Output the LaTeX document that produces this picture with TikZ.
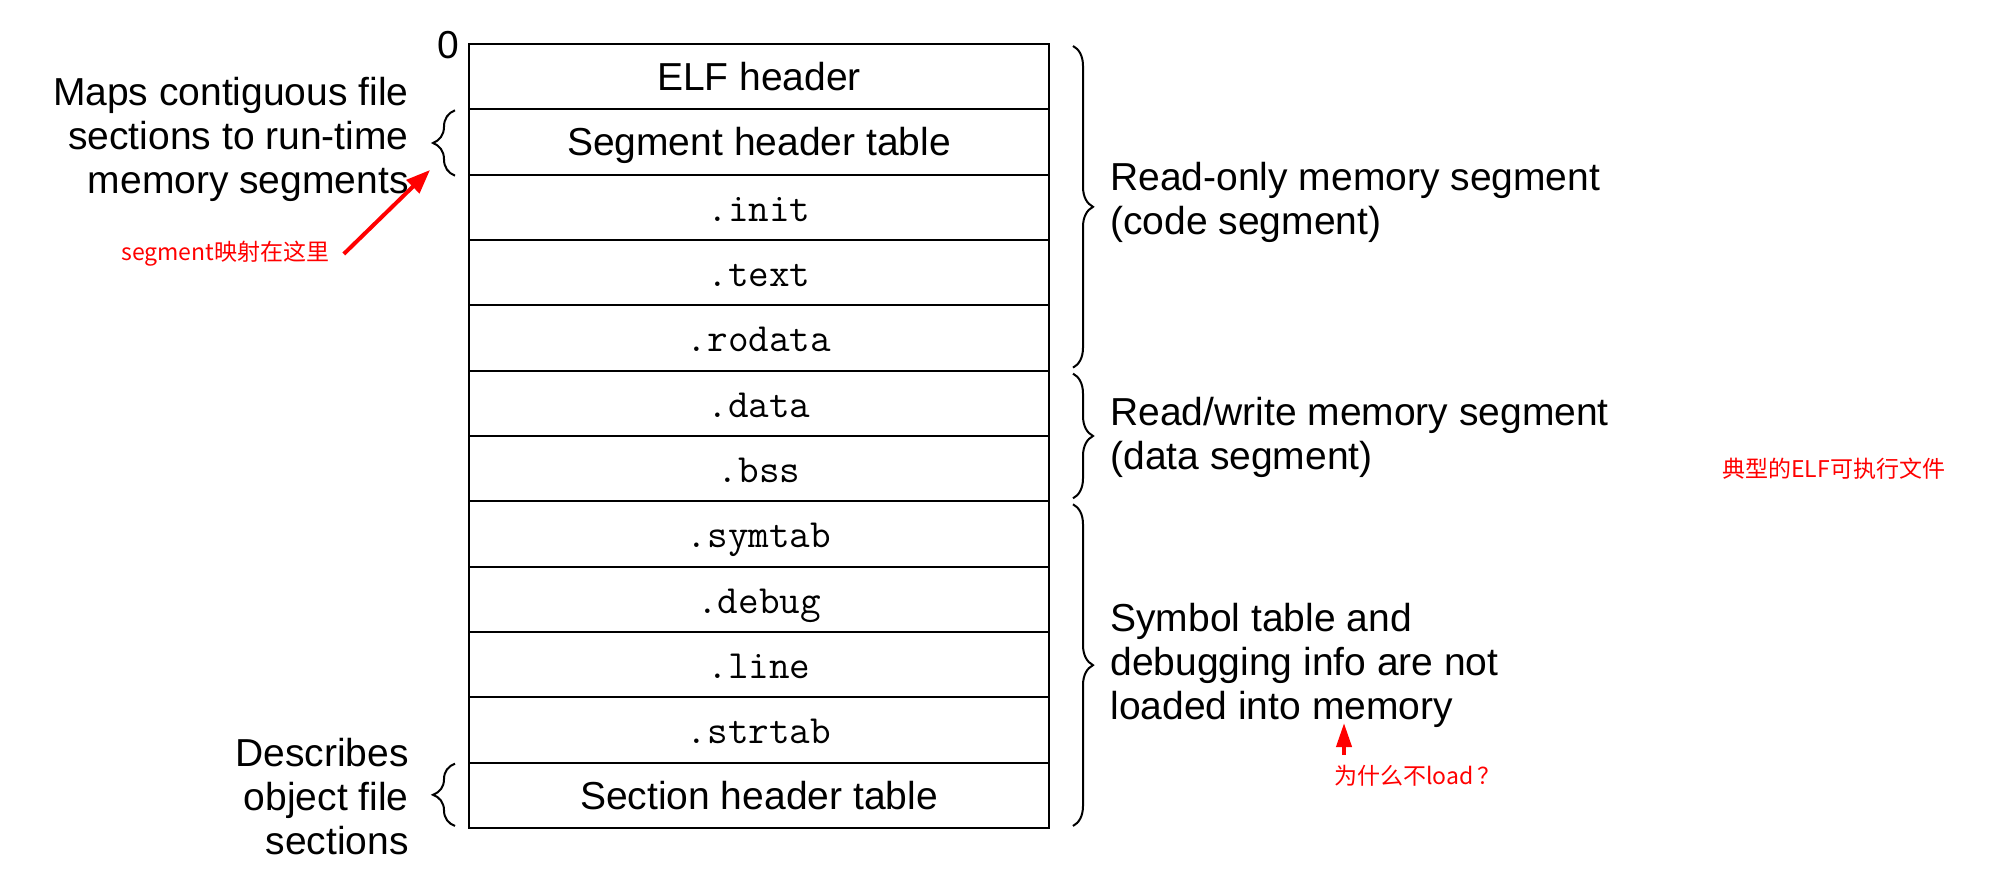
\documentclass[tikz,border=0pt]{standalone}
\usepackage{fontspec}
\setmainfont{Liberation Sans}
\newfontfamily\cjk{Noto Sans CJK SC}
\usetikzlibrary{decorations.pathreplacing,arrows.meta}

\tikzstyle{sect}=[draw,line width=1pt,rectangle,minimum width=290pt,minimum height=32.67pt,inner sep=0pt,outer sep=0pt,text height=14pt,text depth=0pt,font=\fontsize{19.5}{22}\selectfont]
\tikzstyle{brc}=[draw,line width=1pt,decorate,decoration={brace,amplitude=10pt}]
\tikzstyle{note}=[font=\fontsize{19.5}{22}\selectfont,inner sep=0pt]
\tikzstyle{rednote}=[text=red,font=\cjk\fontsize{11.5}{14}\selectfont,inner sep=0pt]
\tikzstyle{redarrow}=[draw=red,line width=2pt,-{Triangle[length=12pt,width=9pt]}]
\newcommand{\rowh}{65.33}
\newcommand{\secname}[1]{\texttt{\fontsize{20}{22}\selectfont#1}}

\begin{document}
\begin{tikzpicture}[x=0.5pt,y=-0.5pt]
    \useasboundingbox (0,0) rectangle (2011,892);
    % First we stack the sections of the file
    \foreach \name/\label [count=\i] in {elf/ELF header, pht/Segment header table,
        init/\secname{.init}, text/\secname{.text}, rodata/\secname{.rodata},
        data/\secname{.data}, bss/\secname{.bss}, symtab/\secname{.symtab},
        debug/\secname{.debug}, line/\secname{.line}, strtab/\secname{.strtab},
        sht/Section header table}
        \node[sect] (\name) at (759,{44+\rowh*(\i-0.5)}) {\label};
    \node[note,anchor=base east] (zero) at (460,59) {0};
    % Braces on the right with the segments
    \draw[brc] ([xshift=12pt,yshift=-1pt]elf.north east) -- ([xshift=12pt,yshift=1.5pt]rodata.south east);
    \draw[brc] ([xshift=12pt,yshift=-1.5pt]data.north east) -- ([xshift=12pt,yshift=1.5pt]bss.south east);
    \draw[brc] ([xshift=12pt,yshift=-1.5pt]symtab.north east) -- ([xshift=12pt,yshift=1pt]sht.south east);
    \node[note,anchor=west,align=left] (ro) at (1110,202) {Read-only memory segment\\(code segment)};
    \node[note,anchor=west,align=left] (rw) at (1110,437) {Read/write memory segment\\(data segment)};
    \node[note,anchor=west,align=left] (sym) at (1110,665) {Symbol table and\\debugging info are not\\loaded into memory};
    % Braces on the left
    \draw[brc,decoration={amplitude=11pt}] ([xshift=-7pt,yshift=-0.5pt]pht.south west) -- ([xshift=-7pt,yshift=-0.5pt]pht.north west);
    \draw[brc,decoration={amplitude=11pt}] ([xshift=-7pt,yshift=1pt]sht.south west) -- ([xshift=-7pt,yshift=-0.5pt]sht.north west);
    \node[note,anchor=east,align=right] (maps) at (409,139) {Maps contiguous file\\sections to run-time\\memory segments};
    \node[note,anchor=east,align=right] (desc) at (409,797) {Describes\\object file\\sections};
    % Red remarks
    \node[rednote,anchor=west] (segnote) at (121,254) {segment映射在这里};
    \node[rednote,anchor=west] (elfnote) at (1722,469) {典型的ELF可执行文件};
    \node[rednote,anchor=west] (whynote) at (1334,776) {为什么不load\,？};
    \coordinate (segtip) at (430,170);
    \coordinate (whytip) at (1344,723);
    \draw[redarrow] ([xshift=7pt]segnote.east) -- (segtip);
    \draw[redarrow,-{Triangle[length=12pt,width=7.5pt]}] ([yshift=5pt]whytip |- whynote.north) -- (whytip);
\end{tikzpicture}
\end{document}
